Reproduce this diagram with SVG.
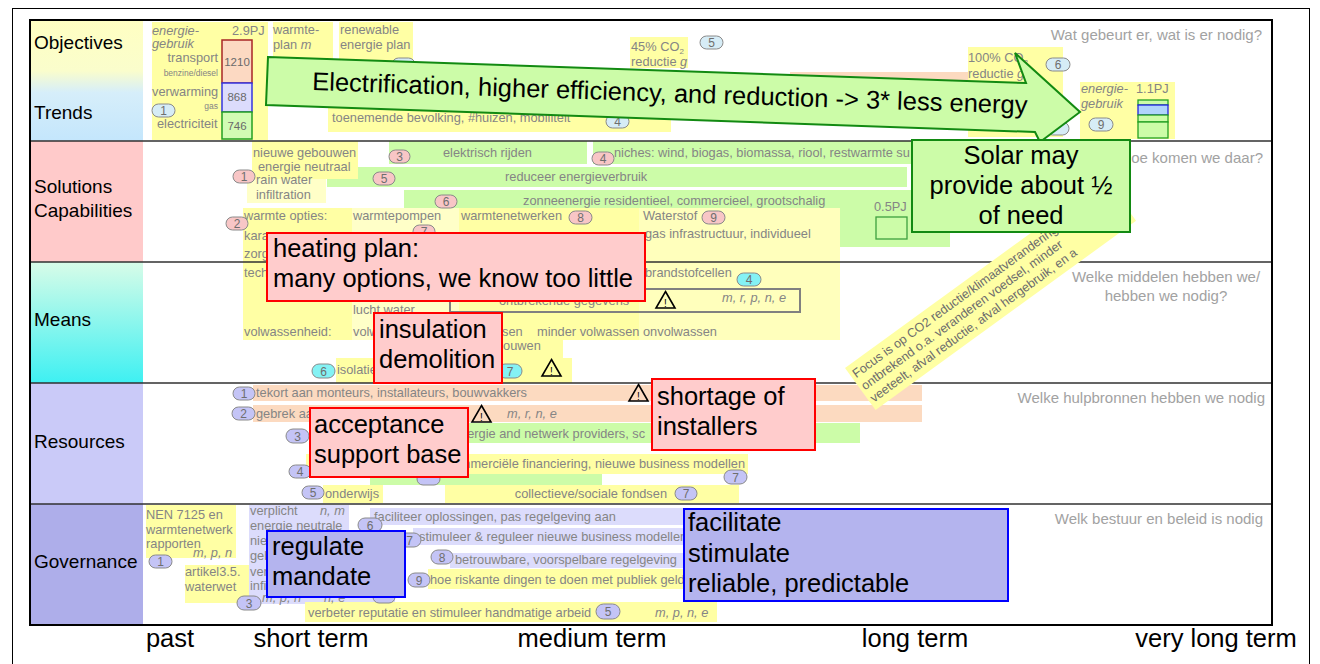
<svg xmlns="http://www.w3.org/2000/svg" width="1320" height="664" viewBox="0 0 1320 664">
<defs>
<linearGradient id="gObj" x1="0" y1="0" x2="0" y2="1">
<stop offset="0" stop-color="#ffffc2"/>
<stop offset="0.42" stop-color="#fafdcc"/>
<stop offset="0.6" stop-color="#d6eefa"/>
<stop offset="1" stop-color="#c4e6fc"/>
</linearGradient>
<linearGradient id="gMeans" x1="0" y1="0" x2="0" y2="1">
<stop offset="0" stop-color="#d8fce8"/>
<stop offset="1" stop-color="#3ef0f2"/>
</linearGradient>
<g id="warn"><polygon points="9.5,0.5 19,17 0,17" fill="none" stroke="#000" stroke-width="1.6"/><text x="9.5" y="15.5" font-size="10" text-anchor="middle" fill="#000" font-family="Liberation Sans, Arial, sans-serif">!</text></g>
</defs>
<style>
text { font-family: "Liberation Sans", Arial, sans-serif; }
.t { font-size: 12.8px; fill: #858585; }
.it { font-style: italic; }
.sm { font-size: 8.5px; fill: #858585; }
.q { font-size: 15px; fill: #a2a2a2; }
.lbl { font-size: 19px; fill: #000; }
.ax { font-size: 25.5px; fill: #000; text-anchor: middle; }
.big { font-size: 25.5px; fill: #000; }
.num { font-size: 11.5px; fill: #6a6a6a; text-anchor: middle; }
.y { fill: #ffffa4; }
.ly { fill: #ffffc8; }
.gr { fill: #ccfca8; }
.pe { fill: #fcdac0; }
.lv { fill: #dcdcfc; }
.pill rect { stroke: #8a8a8a; stroke-width: 1; }
.pill text { font-size: 12px; fill: #6e6e6e; text-anchor: middle; }
.pb rect { fill: #d6ecf6; }
.pp rect { fill: #f8c6c6; }
.pc rect { fill: #84f2f4; }
.pl rect { fill: #c4c4f6; }
.red { fill: #ffcccc; stroke: #ff0000; stroke-width: 2; }
.blue { fill: #b4b4ee; stroke: #0000ff; stroke-width: 2; }
.grb { fill: #ccfca8; stroke: #128a12; stroke-width: 2; }
.grid { stroke: #303030; stroke-width: 1.6; }
</style>

<g id="background">
<rect x="0" y="0" width="1320" height="664" fill="#fff"/>
<rect x="12.5" y="8.5" width="1297" height="680" fill="none" stroke="#000" stroke-width="1"/>
<rect x="30" y="20" width="113" height="121" fill="url(#gObj)"/>
<rect x="30" y="141" width="113" height="121" fill="#ffcaca"/>
<rect x="30" y="262" width="113" height="121" fill="url(#gMeans)"/>
<rect x="30" y="383" width="113" height="121" fill="#cacaf8"/>
<rect x="30" y="504" width="113" height="121" fill="#aeaeea"/>
</g>

<g id="objectives">
<rect class="y" x="152" y="22" width="116" height="118"/>
<rect class="y" x="273" y="22" width="60" height="55"/>
<rect class="y" x="339" y="22" width="74" height="45"/>
<rect class="y" x="328" y="98" width="343" height="34"/>
<rect class="y" x="630" y="37" width="58" height="31"/>
<rect class="pe" x="790" y="72" width="178" height="30"/>
<rect class="y" x="968" y="47" width="95" height="90"/>
<rect class="y" x="1080" y="82" width="95" height="57"/>
<text class="t it" x="152" y="35" font-size="13.5">energie-</text>
<text class="t it" x="152" y="48" font-size="13.5">gebruik</text>
<text class="t" x="232" y="35" font-size="13.5">2.9PJ</text>
<text class="t" x="218" y="62" text-anchor="end">transport</text>
<text class="sm" x="218" y="76" text-anchor="end">benzine/diesel</text>
<text class="t" x="152" y="96">verwarming</text>
<text class="sm" x="218" y="109" text-anchor="end">gas</text>
<text class="t" x="157" y="128">electriciteit</text>
<rect x="222" y="40" width="30" height="43" fill="#fcd9c2" stroke="#a82626" stroke-width="1.5"/>
<rect x="222" y="83" width="30" height="29" fill="#dcdcfc" stroke="#3434e0" stroke-width="1.5"/>
<rect x="222" y="112" width="30" height="27" fill="#d2fcb4" stroke="#22a022" stroke-width="1.5"/>
<text class="num" x="237" y="66">1210</text>
<text class="num" x="237" y="101">868</text>
<text class="num" x="237" y="130">746</text>
<text class="t" x="273" y="34">warmte-</text>
<text class="t" x="273" y="49">plan <tspan class="it">m</tspan></text>
<text class="t" x="340" y="34">renewable</text>
<text class="t" x="340" y="49">energie plan</text>
<text class="t" x="332" y="122">toenemende bevolking, #huizen, mobiliteit</text>
<text class="t" x="631" y="51">45% CO<tspan font-size="8" dy="3">2</tspan></text>
<text class="t" x="631" y="66">reductie <tspan class="it">g</tspan></text>
<text class="t" x="968" y="62">100% CO<tspan font-size="8" dy="3">2</tspan></text>
<text class="t" x="968" y="78">reductie <tspan class="it">g</tspan></text>
<text class="t it" x="1081" y="93">energie-</text>
<text class="t it" x="1081" y="108">gebruik</text>
<text class="t" x="1136" y="93" font-size="13.5">1.1PJ</text>
<rect x="1138" y="100" width="30" height="5" fill="#ccfca8" stroke="#22a022" stroke-width="1.3"/>
<rect x="1138" y="105" width="30" height="10" fill="#b0d4fc" stroke="#2222e0" stroke-width="1.3"/>
<rect x="1138" y="115" width="30" height="7" fill="#ccfca8" stroke="#22a022" stroke-width="1.3"/>
<rect x="1138" y="122" width="30" height="16" fill="#ccfca8" stroke="#22a022" stroke-width="1.3"/>
<g class="pill pb" transform="translate(152,104)"><rect width="23" height="13" rx="6.5"/><text x="11.5" y="11">1</text></g>
<g class="pill pb" transform="translate(700,36)"><rect width="23" height="13" rx="6.5"/><text x="11.5" y="11">5</text></g>
<g class="pill pb" transform="translate(1046,58)"><rect width="24" height="13" rx="6.5"/><text x="12" y="11">6</text></g>
<g class="pill pb" transform="translate(606,115)"><rect width="23" height="13" rx="6.5"/><text x="11.5" y="11">4</text></g>
<g class="pill pb" transform="translate(1089,118)"><rect width="24" height="13" rx="6.5"/><text x="12" y="11">9</text></g>
<g class="pill pb" transform="translate(392,58)"><rect width="23" height="13" rx="6.5"/></g>
<g class="pill pb" transform="translate(1046,122)"><rect width="23" height="13" rx="6.5"/></g>
<text class="q" x="1262" y="40" text-anchor="end">Wat gebeurt er, wat is er nodig?</text>
</g>

<g id="solutions">
<rect class="gr" x="389" y="141" width="198" height="23"/>
<rect class="gr" x="593" y="141" width="537" height="23"/>
<rect class="gr" x="327" y="167" width="580" height="20"/>
<rect class="ly" x="247" y="172" width="79" height="31"/>
<rect class="y" x="252" y="141" width="106" height="38"/>
<rect class="gr" x="404" y="190" width="546" height="57"/>
<rect class="y" x="243" y="208" width="109" height="132"/>
<rect class="ly" x="352" y="208" width="107" height="132"/>
<rect class="y" x="459" y="208" width="180" height="132"/>
<rect class="y" x="453" y="340" width="110" height="18"/>
<rect fill="#ffffbc" x="639" y="208" width="201" height="132"/>
<rect x="876" y="217" width="31" height="22" fill="none" stroke="#3ea03e" stroke-width="1.3"/>
<text class="t" x="874" y="211">0.5PJ</text>
<text class="t" x="443" y="157">elektrisch rijden</text>
<text class="t" x="614" y="157">niches: wind, biogas, biomassa, riool, restwarmte su</text>
<text class="t" x="256" y="184">rain water</text>
<text class="t" x="256" y="199">infiltration</text>
<text class="t" x="253" y="157">nieuwe gebouwen</text>
<text class="t" x="258" y="171">energie neutraal</text>
<text class="t" x="505" y="181">reduceer energieverbruik</text>
<text class="t" x="523" y="205">zonneenergie residentieel, commercieel, grootschalig</text>
<text class="t" x="244" y="220">warmte opties:</text>
<text class="t" x="244" y="240">kara</text>
<text class="t" x="244" y="258">zorg</text>
<text class="t" x="353" y="220">warmtepompen</text>
<text class="t" x="461" y="220">warmtenetwerken</text>
<text class="t" x="643" y="220">Waterstof</text>
<text class="t" x="645" y="238">gas infrastructuur, individueel</text>
<g class="pill pp" transform="translate(389,150)"><rect width="21" height="13" rx="6.5"/><text x="10.5" y="11">3</text></g>
<g class="pill pp" transform="translate(592,152)"><rect width="22" height="13" rx="6.5"/><text x="11" y="11">4</text></g>
<g class="pill pp" transform="translate(233,170)"><rect width="22" height="13" rx="6.5"/><text x="11" y="11">1</text></g>
<g class="pill pp" transform="translate(373,172)"><rect width="22" height="13" rx="6.5"/><text x="11" y="11">5</text></g>
<g class="pill pp" transform="translate(435,195)"><rect width="22" height="13" rx="6.5"/><text x="11" y="11">6</text></g>
<g class="pill pp" transform="translate(226,217)"><rect width="22" height="13" rx="6.5"/><text x="11" y="11">2</text></g>
<g class="pill pp" transform="translate(413,225)"><rect width="22" height="13" rx="6.5"/><text x="11" y="11">7</text></g>
<g class="pill pp" transform="translate(569,211)"><rect width="23" height="13" rx="6.5"/><text x="11.5" y="11">8</text></g>
<g class="pill pp" transform="translate(702,211)"><rect width="23" height="13" rx="6.5"/><text x="11.5" y="11">9</text></g>
<text class="q" x="1263" y="163" text-anchor="end">Hoe komen we daar?</text>
</g>

<g id="means">
<rect class="y" x="336" y="358" width="236" height="25"/>
<rect x="450" y="289" width="350" height="23" fill="none" stroke="#808080" stroke-width="2"/>
<text class="t" x="244" y="277">tech</text>
<text class="t" x="353" y="314">lucht water</text>
<text class="t" x="244" y="336">volwassenheid:</text>
<text class="t" x="353" y="336">volw</text>
<text class="t" x="502" y="336">sen</text>
<text class="t" x="537" y="336">minder volwassen</text>
<text class="t" x="643" y="336">onvolwassen</text>
<text class="t" x="496" y="350">bouwen</text>
<text class="t" x="337" y="374">isolatie</text>
<text class="t" x="499" y="305">ontbrekende gegevens</text>
<text class="t it" x="722" y="302">m, r, p, n, e</text>
<text class="t" x="645" y="277">brandstofcellen</text>
<g class="pill pc" transform="translate(737,273)"><rect width="24" height="13" rx="6.5"/><text x="12" y="11">4</text></g>
<g class="pill pc" transform="translate(312,364)"><rect width="23" height="14" rx="7"/><text x="11.5" y="11.5">6</text></g>
<g class="pill pc" transform="translate(498,364)"><rect width="24" height="14" rx="7"/><text x="12" y="11.5">7</text></g>
<text class="q" x="1166" y="282" text-anchor="middle">Welke middelen hebben we/</text>
<text class="q" x="1166" y="301" text-anchor="middle">hebben we nodig?</text>
</g>

<g id="resources">
<rect class="pe" x="253" y="385" width="669" height="16"/>
<rect class="pe" x="253" y="405" width="669" height="17"/>
<rect class="gr" x="309" y="423" width="551" height="20"/>
<rect class="y" x="306" y="454" width="442" height="20"/>
<rect class="gr" x="370" y="474" width="232" height="11"/>
<rect class="y" x="323" y="485" width="60" height="18"/>
<rect class="y" x="445" y="485" width="294" height="18"/>
<text class="t" x="256" y="397">tekort aan monteurs, installateurs, bouwvakkers</text>
<text class="t" x="256" y="418">gebrek aan</text>
<text class="t it" x="507" y="418">m, r, n, e</text>
<text class="t" x="453" y="438">energie and netwerk providers, sc</text>
<text class="t" x="745" y="468" text-anchor="end">commerciële financiering, nieuwe business modellen</text>
<text class="t" x="325" y="498">onderwijs</text>
<text class="t" x="667" y="498" text-anchor="end">collectieve/sociale fondsen</text>
<g class="pill pl" transform="translate(233,387)"><rect width="22" height="13" rx="6.5"/><text x="11" y="11">1</text></g>
<g class="pill pl" transform="translate(232,407)"><rect width="23" height="13" rx="6.5"/><text x="11.5" y="11">2</text></g>
<g class="pill pl" transform="translate(286,429)"><rect width="23" height="14" rx="7"/><text x="11.5" y="11.5">3</text></g>
<g class="pill pl" transform="translate(289,465)"><rect width="22" height="13" rx="6.5"/><text x="11" y="11">4</text></g>
<g class="pill pl" transform="translate(417,473)"><rect width="23" height="12" rx="6"/></g>
<g class="pill pl" transform="translate(724,470)"><rect width="23" height="14" rx="7"/><text x="11.5" y="11.5">7</text></g>
<g class="pill pl" transform="translate(302,486)"><rect width="22" height="13" rx="6.5"/><text x="11" y="11">5</text></g>
<g class="pill pl" transform="translate(675,487)"><rect width="22" height="13" rx="6.5"/><text x="11" y="11">7</text></g>
<text class="q" x="1265" y="403" text-anchor="end">Welke hulpbronnen hebben we nodig</text>
</g>

<g id="governance">
<rect class="y" x="146" y="505" width="90" height="53"/>
<rect class="y" x="185" y="565" width="64" height="38"/>
<rect class="lv" x="249" y="505" width="100" height="98"/>
<rect class="lv" x="260" y="592" width="135" height="12"/>
<rect class="lv" x="370" y="508" width="314" height="17"/>
<rect class="lv" x="413" y="528" width="271" height="17"/>
<rect class="lv" x="450" y="553" width="234" height="15"/>
<rect class="y" x="428" y="569" width="256" height="20"/>
<rect class="y" x="305" y="602" width="412" height="20"/>
<text class="t" x="146" y="519">NEN 7125 en</text>
<text class="t" x="146" y="534">warmtenetwerk</text>
<text class="t" x="146" y="548">rapporten</text>
<text class="t it" x="193" y="557">m, p, n</text>
<text class="t" x="185" y="576">artikel3.5.</text>
<text class="t" x="185" y="591">waterwet</text>
<text class="t" x="250" y="515">verplicht</text>
<text class="t it" x="320" y="515">n, m</text>
<text class="t" x="250" y="530">energie neutrale</text>
<text class="t" x="250" y="545">nie</text>
<text class="t" x="250" y="560">geb</text>
<text class="t" x="250" y="576">ver</text>
<text class="t" x="250" y="590">infi</text>
<text class="t it" x="262" y="602">m, p, n</text>
<text class="t it" x="324" y="602">n, e</text>
<text class="t" x="374" y="521">faciliteer oplossingen, pas regelgeving aan</text>
<text class="t" x="419" y="541">stimuleer &amp; reguleer nieuwe business modellen</text>
<text class="t" x="455" y="564">betrouwbare, voorspelbare regelgeving</text>
<text class="t" x="430" y="584">hoe riskante dingen te doen met publiek geld</text>
<text class="t" x="308" y="617">verbeter reputatie en stimuleer handmatige arbeid</text>
<text class="t it" x="655" y="617">m, p, n, e</text>
<g class="pill pl" transform="translate(149,555)"><rect width="23" height="13" rx="6.5"/><text x="11.5" y="11">1</text></g>
<g class="pill pl" transform="translate(237,596)"><rect width="24" height="14" rx="7"/><text x="12" y="11.5">3</text></g>
<g class="pill pl" transform="translate(358,518)"><rect width="24" height="14" rx="7"/><text x="12" y="11.5">6</text></g>
<g class="pill pl" transform="translate(398,533)"><rect width="23" height="14" rx="7"/><text x="11.5" y="11.5">7</text></g>
<g class="pill pl" transform="translate(431,550)"><rect width="22" height="14" rx="7"/><text x="11" y="11.5">8</text></g>
<g class="pill pl" transform="translate(408,573)"><rect width="22" height="14" rx="7"/><text x="11" y="11.5">9</text></g>
<g class="pill pl" transform="translate(373,591)"><rect width="22" height="12" rx="6"/></g>
<g class="pill pl" transform="translate(596,604)"><rect width="24" height="15" rx="7.5"/><text x="12" y="12">5</text></g>
<text class="q" x="1263" y="524" text-anchor="end">Welk bestuur en beleid is nodig</text>
</g>

<g id="grid">
<line class="grid" x1="30" y1="141" x2="1272" y2="141"/>
<line class="grid" x1="30" y1="262" x2="1272" y2="262" stroke="#606060"/>
<line class="grid" x1="30" y1="383" x2="1272" y2="383"/>
<line class="grid" x1="30" y1="504" x2="1272" y2="504"/>
<rect x="30" y="20" width="1242" height="605" fill="none" stroke="#000" stroke-width="2"/>
</g>

<g id="focus-note" transform="translate(845,368) rotate(-36)">
<rect x="0" y="0" width="322" height="52" fill="#ffffa4"/>
<text x="3" y="15" font-size="12.5" fill="#6c6c6c">Focus is op CO2 reductie/klimaatverandering</text>
<text x="3" y="30" font-size="12.5" fill="#6c6c6c">ontbrekend o.a. veranderen voedsel, minder</text>
<text x="3" y="45" font-size="12.5" fill="#6c6c6c">veeteelt, afval reductie, afval hergebruik, en a</text>
</g>

<g id="connectors">
<g id="arrow">
<polygon points="268,57 1026,83 1015,53 1080,112 1040,142 1035,132 266,105" fill="#ccfca8" stroke="#128a12" stroke-width="2" stroke-linejoin="miter"/>
<text class="big" x="312" y="90" transform="rotate(1.9 312 90)">Electrification, higher efficiency, and reduction -&gt; 3* less energy</text>
</g>
</g>

<g id="heating">
<rect class="red" x="267" y="233" width="378" height="68"/>
<text class="big" x="273" y="257">heating plan:</text>
<text class="big" x="273" y="287">many options, we know too little</text>
</g>
<g id="insulation">
<rect class="red" x="374" y="313" width="128" height="70"/>
<text class="big" x="379" y="338">insulation</text>
<text class="big" x="379" y="368">demolition</text>
</g>
<g id="acceptance">
<rect class="red" x="310" y="408" width="158" height="69"/>
<text class="big" x="314" y="433">acceptance</text>
<text class="big" x="314" y="463">support base</text>
</g>
<g id="shortage">
<rect class="red" x="652" y="379" width="163" height="71"/>
<text class="big" x="657" y="405">shortage of</text>
<text class="big" x="657" y="435">installers</text>
</g>
<g id="regulate">
<rect class="blue" x="267" y="531" width="138" height="66"/>
<text class="big" x="272" y="555">regulate</text>
<text class="big" x="272" y="585">mandate</text>
</g>
<g id="facilitate">
<rect class="blue" x="684" y="509" width="324" height="92"/>
<text class="big" x="688" y="531">facilitate</text>
<text class="big" x="688" y="562">stimulate</text>
<text class="big" x="688" y="592">reliable, predictable</text>
</g>
<g id="solar">
<rect class="grb" x="912" y="140" width="218" height="92"/>
<text class="big" x="1021" y="164" text-anchor="middle">Solar may</text>
<text class="big" x="1021" y="194" text-anchor="middle">provide about ½</text>
<text class="big" x="1021" y="224" text-anchor="middle">of need</text>
</g>

<g id="warnings">
<use href="#warn" x="656" y="291"/>
<use href="#warn" x="542" y="359"/>
<use href="#warn" x="472" y="405"/>
<use href="#warn" x="629" y="384"/>
</g>

<g id="row-labels">
<text class="lbl" x="34" y="49">Objectives</text>
<text class="lbl" x="34" y="119">Trends</text>
<text class="lbl" x="34" y="193">Solutions</text>
<text class="lbl" x="34" y="217">Capabilities</text>
<text class="lbl" x="34" y="326">Means</text>
<text class="lbl" x="34" y="448">Resources</text>
<text class="lbl" x="34" y="568">Governance</text>
</g>

<g id="axis">
<text class="ax" x="170" y="647">past</text>
<text class="ax" x="311" y="647">short term</text>
<text class="ax" x="592" y="647">medium term</text>
<text class="ax" x="915" y="647">long term</text>
<text class="ax" x="1216" y="647">very long term</text>
</g>
</svg>
